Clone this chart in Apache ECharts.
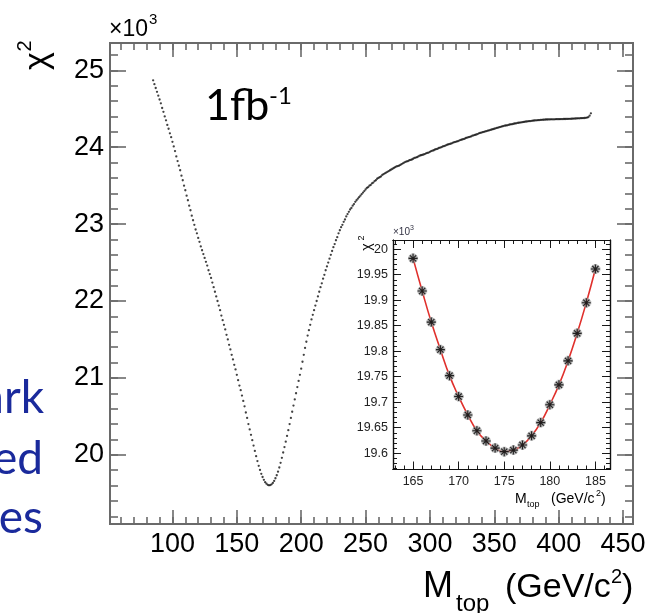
<!DOCTYPE html>
<html>
<head>
<meta charset="utf-8">
<script src="https://cdn.jsdelivr.net/npm/echarts@6/dist/echarts.min.js"></script>
<style>
html,body{margin:0;padding:0;background:#fff;}
#chart{width:650px;height:613px;}
</style>
</head>
<body>
<div id="chart"></div>
<script>
// ---- main chi2 scan (x 10^3), one point per GeV starting at 85 GeV ----
const chi2StartMass = 85;
const chi2Main = [
  24.87, 24.82, 24.77, 24.72, 24.67, 24.62,
  24.57, 24.51, 24.46, 24.40, 24.35, 24.29, 24.24, 24.18, 24.13, 24.07,
  24.01, 23.95, 23.88, 23.82, 23.76, 23.70, 23.63, 23.57, 23.50, 23.44,
  23.37, 23.31, 23.24, 23.18, 23.11, 23.05, 22.99, 22.93, 22.88, 22.82,
  22.77, 22.71, 22.66, 22.61, 22.56, 22.51, 22.46, 22.40, 22.35, 22.30,
  22.24, 22.18, 22.12, 22.06, 22.00, 21.94, 21.88, 21.81, 21.75, 21.69,
  21.63, 21.56, 21.50, 21.43, 21.37, 21.30, 21.24, 21.17, 21.11, 21.04,
  20.97, 20.90, 20.84, 20.77, 20.70, 20.63, 20.55, 20.48, 20.40, 20.33,
  20.26, 20.19, 20.12, 20.05, 19.982, 19.918, 19.857, 19.803, 19.752, 19.711,
  19.675, 19.644, 19.624, 19.610, 19.603, 19.606, 19.616, 19.634, 19.660, 19.695,
  19.734, 19.781, 19.835, 19.895, 19.961, 20.03, 20.10, 20.17, 20.245, 20.32,
  20.40, 20.48, 20.56, 20.64, 20.72, 20.80, 20.88, 20.96, 21.04, 21.12,
  21.21, 21.30, 21.39, 21.47, 21.55, 21.62, 21.69, 21.76, 21.82, 21.88,
  21.94, 22.00, 22.06, 22.12, 22.18, 22.23, 22.29, 22.34, 22.40, 22.45,
  22.50, 22.55, 22.60, 22.65, 22.70, 22.74, 22.79, 22.83, 22.88, 22.92,
  22.96, 22.99, 23.03, 23.06, 23.10, 23.13, 23.16, 23.19, 23.21, 23.24,
  23.26, 23.29, 23.31, 23.33, 23.35, 23.37, 23.39, 23.41, 23.43, 23.45,
  23.47, 23.48, 23.50, 23.51, 23.53, 23.54, 23.56, 23.57, 23.59, 23.60,
  23.61, 23.62, 23.64, 23.65, 23.66, 23.67, 23.68, 23.69, 23.70, 23.71,
  23.72, 23.73, 23.74, 23.75, 23.755, 23.76, 23.77, 23.78, 23.79, 23.80,
  23.81, 23.815, 23.82, 23.83, 23.835, 23.84, 23.85, 23.86, 23.865, 23.87,
  23.88, 23.89, 23.895, 23.90, 23.905, 23.91, 23.92, 23.925, 23.93, 23.94,
  23.95, 23.955, 23.96, 23.97, 23.975, 23.98, 23.99, 23.995, 24.00, 24.01,
  24.015, 24.02, 24.03, 24.035, 24.04, 24.045, 24.05, 24.06, 24.065, 24.07,
  24.075, 24.08, 24.09, 24.095, 24.10, 24.105, 24.11, 24.12, 24.125, 24.13,
  24.135, 24.14, 24.15, 24.155, 24.16, 24.165, 24.17, 24.18, 24.185, 24.19,
  24.195, 24.20, 24.205, 24.21, 24.215, 24.22, 24.225, 24.23, 24.235, 24.24,
  24.245, 24.25, 24.255, 24.26, 24.265, 24.27, 24.275, 24.28, 24.282, 24.285,
  24.29, 24.295, 24.298, 24.30, 24.305, 24.308, 24.311, 24.315, 24.318, 24.32,
  24.323, 24.326, 24.329, 24.332, 24.334, 24.336, 24.338, 24.34, 24.343, 24.345,
  24.347, 24.349, 24.35, 24.352, 24.353, 24.355, 24.356, 24.357, 24.358, 24.36,
  24.36, 24.361, 24.361, 24.362, 24.362, 24.363, 24.363, 24.364, 24.364, 24.365,
  24.365, 24.366, 24.366, 24.367, 24.367, 24.368, 24.368, 24.369, 24.369, 24.37,
  24.371, 24.372, 24.373, 24.374, 24.375, 24.376, 24.377, 24.378, 24.379, 24.38,
  24.382, 24.385, 24.39, 24.41, 24.44
];

// ---- inset zoom around the minimum (x 10^3) ----
const insetMass = [165,166,167,168,169,170,171,172,173,174,175,176,177,178,179,180,181,182,183,184,185];
const insetChi2 = [19.982,19.918,19.857,19.803,19.752,19.711,19.675,19.644,19.624,19.610,19.603,
                   19.606,19.616,19.634,19.660,19.695,19.734,19.781,19.835,19.895,19.961];

// ---- tick labels ----
const mainXTicks = [100,150,200,250,300,350,400,450];
const mainYTicks = [20,21,22,23,24,25];
const insetXTicks = [165,170,175,180,185];
const insetYTicks = [19.6,19.65,19.7,19.75,19.8,19.85,19.9,19.95,20];

function steps(a, b, s, dec) { const r = []; for (let v = a; v <= b + s/2; v += s) r.push(+v.toFixed(dec)); return r; }
const mainXMinor = steps(60, 450, 10, 0);
const mainYMinor = steps(19.2, 25.2, 0.2, 1);
const insetXMinor = steps(163, 186, 1, 0);
const insetYMinor = steps(19.57, 20.01, 0.01, 2);

const mainData = chi2Main.map((v, i) => [chi2StartMass + i, v]);
const insetData = insetMass.map((m, i) => [m, insetChi2[i]]);

const FONT = "'Liberation Sans', Arial, sans-serif";

function axis(grid, pos, min, max, ticks, len, color, lw, label) {
  return {
    type: 'value', gridIndex: grid, position: pos, min: min, max: max, z: grid === 1 ? 20 : 3,
    axisLine: { show: true, onZero: false, lineStyle: { color: color, width: lw } },
    axisTick: { show: true, inside: true, length: len, customValues: ticks, lineStyle: { color: color, width: lw * 0.8 } },
    axisLabel: label ? Object.assign({ show: true, customValues: ticks }, label) : { show: false },
    splitLine: { show: false }, minorTick: { show: false }, minorSplitLine: { show: false },
    axisPointer: { show: false }
  };
}

const MX = [51.5, 457.7], MY = [19.1, 25.355];
const IX = [162.8, 186.6], IY = [19.568, 20.018];
const mainCol = '#6a6a6a', insetCol = '#111';

const mainXLabel = { fontSize: 27, color: '#000', fontFamily: FONT, margin: 7 };
const mainYLabel = { fontSize: 27, color: '#000', fontFamily: FONT, margin: 6 };
const insetXLabel = { fontSize: 12.5, color: '#222', fontFamily: FONT, margin: 6 };
const insetYLabel = { fontSize: 12.5, color: '#222', fontFamily: FONT, margin: 5 };

const asterisk = 'path://M0 5L10 5M5 0L5 10M1.6 1.6L8.4 8.4M8.4 1.6L1.6 8.4';

function txt(text, x, y, size, opts) {
  opts = opts || {};
  return {
    type: 'text', x: x, y: y, rotation: opts.rot || 0, z: 100,
    style: {
      text: text, fill: opts.color || '#000',
      font: (size) + 'px ' + (opts.family || FONT),
      align: opts.align || 'left', verticalAlign: 'middle'
    }
  };
}
const SLIDE = "Lato, 'Open Sans', sans-serif";
const BLUE = '#1a2a9c';

const chart = echarts.init(document.getElementById('chart'), null, { renderer: 'canvas' });
chart.setOption({
  animation: false,
  backgroundColor: '#fff',
  grid: [
    { left: 110, top: 43, width: 523, height: 481, containLabel: false },
    { left: 393, top: 240, width: 217, height: 229.5, show: true, backgroundColor: '#fff', borderWidth: 0 }
  ],
  xAxis: [
    axis(0, 'bottom', MX[0], MX[1], mainXTicks, 14, mainCol, 2, mainXLabel),
    axis(0, 'bottom', MX[0], MX[1], mainXMinor, 7, mainCol, 2),
    axis(0, 'top', MX[0], MX[1], mainXTicks, 14, mainCol, 2),
    axis(0, 'top', MX[0], MX[1], mainXMinor, 7, mainCol, 2),
    axis(1, 'bottom', IX[0], IX[1], insetXTicks, 8, insetCol, 1.2, insetXLabel),
    axis(1, 'bottom', IX[0], IX[1], insetXMinor, 4, insetCol, 1.2),
    axis(1, 'top', IX[0], IX[1], insetXTicks, 8, insetCol, 1.2),
    axis(1, 'top', IX[0], IX[1], insetXMinor, 4, insetCol, 1.2)
  ],
  yAxis: [
    axis(0, 'left', MY[0], MY[1], mainYTicks, 16, mainCol, 2, mainYLabel),
    axis(0, 'left', MY[0], MY[1], mainYMinor, 8, mainCol, 2),
    axis(0, 'right', MY[0], MY[1], mainYTicks, 16, mainCol, 2),
    axis(0, 'right', MY[0], MY[1], mainYMinor, 8, mainCol, 2),
    axis(1, 'left', IY[0], IY[1], insetYTicks, 8, insetCol, 1.2, insetYLabel),
    axis(1, 'left', IY[0], IY[1], insetYMinor, 4, insetCol, 1.2),
    axis(1, 'right', IY[0], IY[1], insetYTicks, 8, insetCol, 1.2),
    axis(1, 'right', IY[0], IY[1], insetYMinor, 4, insetCol, 1.2)
  ],
  series: [
    { type: 'scatter', xAxisIndex: 0, yAxisIndex: 0, data: mainData, symbol: 'circle', symbolSize: 2.3,
      itemStyle: { color: '#111' }, silent: true },
    { type: 'line', xAxisIndex: 4, yAxisIndex: 4, data: insetData, smooth: true, showSymbol: false,
      lineStyle: { color: '#e0302c', width: 1.6 }, z: 6, silent: true },
    { type: 'scatter', xAxisIndex: 4, yAxisIndex: 4, data: insetData, symbol: asterisk, symbolSize: 10,
      itemStyle: { color: 'none', borderColor: '#9a9a9a', borderWidth: 3 }, z: 7, silent: true },
    { type: 'scatter', xAxisIndex: 4, yAxisIndex: 4, data: insetData, symbol: asterisk, symbolSize: 9,
      itemStyle: { color: 'none', borderColor: '#000', borderWidth: 1.1 }, z: 8, silent: true }
  ],
  graphic: [
    // main y title and exponent
    txt('\u03c7', 38, 61, 34, { rot: Math.PI / 2, align: 'center' }),
    txt('2', 25, 46, 20, { rot: Math.PI / 2, align: 'center' }),
    txt('\u00d710', 109, 30, 23),
    txt('3', 149, 20, 15),
    // luminosity label
    txt('1fb', 205, 106, 43, { family: SLIDE }),
    txt('-1', 269, 96, 24, { family: SLIDE }),
    // cut-off slide text on the left
    txt('ark', 44, 398, 46, { family: SLIDE, color: BLUE, align: 'right' }),
    txt('ed', 43, 459, 46, { family: SLIDE, color: BLUE, align: 'right' }),
    txt('es', 43, 518, 46, { family: SLIDE, color: BLUE, align: 'right' }),
    // main x title
    txt('M', 423, 587, 36),
    txt('top', 456, 604, 24),
    txt('(GeV/c', 505, 588, 34),
    txt('2', 611, 577, 20),
    txt(')', 622, 588, 34),
    // inset texts
    txt('\u03c7', 367, 247, 14, { rot: Math.PI / 2, align: 'center' }),
    txt('2', 362, 238, 9, { rot: Math.PI / 2, align: 'center' }),
    txt('\u00d710', 393, 232, 10, { color: '#334' }),
    txt('3', 410, 228, 7, { color: '#334' }),
    txt('M', 515, 499, 14),
    txt('top', 527, 505, 9),
    txt('(GeV/c', 551, 499, 14),
    txt('2', 596, 494, 9),
    txt(')', 601, 499, 14)
  ]
});
</script>
</body>
</html>
